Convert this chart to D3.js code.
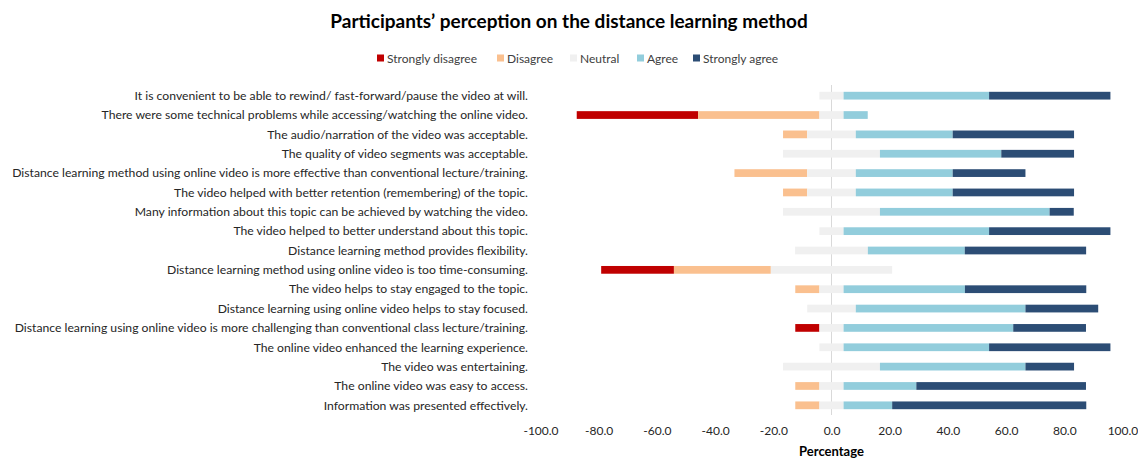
<!DOCTYPE html>
<html>
<head>
<meta charset="utf-8">
<script src="https://cdn.jsdelivr.net/npm/d3@7/dist/d3.min.js"></script>
<style>
  body { margin: 0; background: #fff; }
  svg { font-family: Lato, "Open Sans", sans-serif; }
</style>
</head>
<body>
<svg id="chart" width="1138" height="459"></svg>
<script>
var categories = [
  'It is convenient to be able to rewind/ fast-forward/pause the video at will.',
  'There were some technical problems while accessing/watching the online video.',
  'The audio/narration of the video was acceptable.',
  'The quality of video segments was acceptable.',
  'Distance learning method using online video is more effective than conventional lecture/training.',
  'The video helped with better retention (remembering) of the topic.',
  'Many information about this topic can be achieved by watching the video.',
  'The video helped to better understand about this topic.',
  'Distance learning method provides flexibility.',
  'Distance learning method using online video is too time-consuming.',
  'The video helps to stay engaged to the topic.',
  'Distance learning using online video helps to stay focused.',
  'Distance learning using online video is more challenging than conventional class lecture/training.',
  'The online video enhanced the learning experience.',
  'The video was entertaining.',
  'The online video was easy to access.',
  'Information was presented effectively.'
];

var stronglyDisagree = [0, 41.7, 0, 0, 0, 0, 0, 0, 0, 25, 0, 0, 8.3, 0, 0, 0, 0];
var disagree         = [0, 41.7, 8.3, 0, 25, 8.3, 0, 0, 0, 33.3, 8.3, 0, 0, 0, 0, 8.3, 8.3];
var neutral          = [8.3, 8.3, 16.7, 33.3, 16.7, 16.7, 33.3, 8.3, 25, 41.7, 8.3, 16.7, 8.3, 8.3, 33.3, 8.3, 8.3];
var agree            = [50, 8.3, 33.3, 41.7, 33.3, 33.3, 58.3, 50, 33.3, 0, 41.7, 58.3, 58.3, 50, 50, 25, 16.7];
var stronglyAgree    = [41.7, 0, 41.7, 25, 25, 41.7, 8.3, 41.7, 41.7, 0, 41.7, 25, 25, 41.7, 16.7, 58.3, 66.7];

var seriesNames = ['Strongly disagree', 'Disagree', 'Neutral', 'Agree', 'Strongly agree'];
var seriesColors = ['#c00000', '#fac08f', '#f0f0f0', '#92cddc', '#2c4d75'];
var xTicks = [-100, -80, -60, -40, -20, 0, 20, 40, 60, 80, 100];

var svg = d3.select('#chart');

var x = d3.scaleLinear().domain([-100, 100]).range([540.5, 1122.5]);
var y = d3.scaleBand().domain(categories).range([86, 415]).paddingInner(0.6).paddingOuter(0.3);

// build segments: neutral is centred on zero, negatives stack leftwards
var rows = categories.map(function(c, i) {
  var half = neutral[i] / 2;
  var segs = [];
  var left = -half - disagree[i] - stronglyDisagree[i];
  var vals = [stronglyDisagree[i], disagree[i], neutral[i], agree[i], stronglyAgree[i]];
  vals.forEach(function(v, k) {
    segs.push({cat: c, key: k, x0: left, x1: left + v});
    left += v;
  });
  return segs.filter(function(s) { return s.x1 - s.x0 > 0; });
});

svg.append('text')
  .attr('x', 569).attr('y', 28)
  .attr('text-anchor', 'middle')
  .style('font-size', '19px').style('font-weight', 'bold').style('fill', '#000')
  .text('Participants’  perception on the distance learning method');

// legend
var legendX = [377, 497, 570, 637, 693];
var legend = svg.append('g').selectAll('g').data(seriesNames).enter().append('g')
  .attr('transform', function(d, i) { return 'translate(' + legendX[i] + ',58)'; });
legend.append('rect').attr('x', 0).attr('y', -3.5).attr('width', 7).attr('height', 7)
  .attr('fill', function(d, i) { return seriesColors[i]; });
legend.append('text').attr('x', 10).attr('y', 4.5)
  .style('font-size', '12px').style('fill', '#404040')
  .text(function(d) { return d; });

// zero line
svg.append('line')
  .attr('x1', x(0)).attr('x2', x(0)).attr('y1', 85).attr('y2', 415)
  .attr('stroke', '#d9d9d9').attr('stroke-width', 1);

svg.append('g').selectAll('g').data(rows).enter().append('g')
  .selectAll('rect').data(function(d) { return d; }).enter().append('rect')
  .attr('x', function(d) { return x(d.x0); })
  .attr('width', function(d) { return x(d.x1) - x(d.x0); })
  .attr('y', function(d) { return y(d.cat); })
  .attr('height', y.bandwidth())
  .attr('fill', function(d) { return seriesColors[d.key]; });

// category labels
svg.append('g').selectAll('text').data(categories).enter().append('text')
  .attr('x', 528)
  .attr('y', function(d) { return y(d) + y.bandwidth() / 2; })
  .attr('dy', '0.35em')
  .attr('text-anchor', 'end')
  .style('font-size', '12.2px').style('fill', '#262626')
  .text(function(d) { return d; });

// x axis labels (plain hyphen for negatives, like the original)
var fmt = d3.format('.1f');
var xAxis = d3.axisBottom(x).tickValues(xTicks)
  .tickFormat(function(d) { return fmt(d).replace('\u2212', '-'); })
  .tickSize(0).tickPadding(0);
var ax = svg.append('g').attr('transform', 'translate(0,426)').call(xAxis);
ax.select('.domain').remove();
ax.selectAll('text').style('font-size', '12px').style('font-family', 'Lato, sans-serif').style('fill', '#262626');

svg.append('text')
  .attr('x', x(0)).attr('y', 456)
  .attr('text-anchor', 'middle')
  .style('font-size', '13px').style('font-weight', 'bold')
  .text('Percentage');
</script>
</body>
</html>
